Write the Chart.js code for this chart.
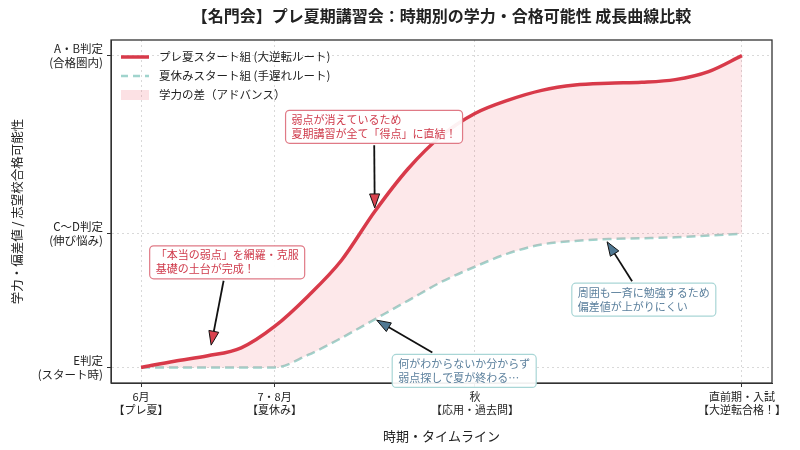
<!DOCTYPE html>
<html>
<head>
<meta charset="utf-8">
<script src="https://cdn.jsdelivr.net/npm/chart.js@4.4.1/dist/chart.umd.min.js"></script>
<style>
  html, body { margin: 0; background: #fff; }
</style>
</head>
<body>
<canvas id="growthChart" width="800" height="450"></canvas>
<script>
const FONT = '"Noto Sans CJK JP", "Noto Sans", sans-serif';

// timeline (0 = 6月, 2 = 7・8月, 5 = 秋, 9 = 直前期)
const timeX = [0, 0.5, 1, 1.5, 2, 2.5, 3, 3.5, 4, 4.5, 5, 5.5, 6, 6.5, 7, 7.5, 8, 8.5, 9];
const preSummerGroup = [40, 40.7, 41.3, 42.2, 44.6, 48, 52, 57.5, 62.3, 66, 68.5, 70, 71.1, 71.7, 71.9, 72, 72.3, 73.2, 75];
const summerGroup = [40, 40, 40, 40, 40, 41.4, 43.3, 45.4, 47.5, 49.6, 51.3, 52.8, 53.8, 54.2, 54.4, 54.5, 54.6, 54.8, 55];

const xTickValues = [0, 2, 5, 9];
const xTickLabels = [["6月", "【プレ夏】"], ["7・8月", "【夏休み】"], ["秋", "【応用・過去問】"], ["直前期・入試", "【大逆転合格！】"]];
const yTickValues = [40, 55, 75];
const yTickLabels = [["E判定", "(スタート時)"], ["C〜D判定", "(伸び悩み)"], ["A・B判定", "(合格圏内)"]];

const seriesNames = ["プレ夏スタート組 (大逆転ルート)", "夏休みスタート組 (手遅れルート)", "学力の差（アドバンス）"];

const notes = [
  { lines: ["弱点が消えているため", "夏期講習が全て「得点」に直結！"], x: 3.49, y: 67, tipX: 3.5, tipY: 57.9, tone: "red" },
  { lines: ["「本当の弱点」を網羅・克服", "基礎の土台が完成！"], x: 1.29, y: 51.8, tipX: 1.05, tipY: 42.5, tone: "red" },
  { lines: ["何がわからないか分からず", "弱点探しで夏が終わる…"], x: 4.84, y: 39.6, tipX: 3.53, tipY: 45.3, tone: "blue" },
  { lines: ["周囲も一斉に勉強するため", "偏差値が上がりにくい"], x: 7.53, y: 47.6, tipX: 6.98, tipY: 54.1, tone: "blue" }
];

const RED = "#d83a4a";
const TEAL = "#a0d4cd";
const PINK = "rgba(238, 90, 105, 0.14)";

const noteTones = {
  red: { text: "#cf3a4b", border: "#e07a86", head: "#d9434f" },
  blue: { text: "#5a7f9c", border: "#a9d6d6", head: "#4f7893" }
};

const titlePlugin = {
  id: "centeredTitle",
  afterDraw(chart) {
    const { ctx, chartArea: a } = chart;
    ctx.save();
    ctx.fillStyle = "#222";
    ctx.font = "bold 16px " + FONT;
    ctx.textAlign = "center";
    ctx.textBaseline = "middle";
    ctx.fillText("【名門会】プレ夏期講習会：時期別の学力・合格可能性 成長曲線比較", (a.left + a.right) / 2, 16);
    ctx.restore();
  }
};

// legend drawn inside the plot, top-left
const legendPlugin = {
  id: "innerLegend",
  afterDatasetsDraw(chart) {
    const { ctx, chartArea: a } = chart;
    const x0 = a.left + 10, y0 = a.top + 17, row = 19;
    ctx.save();
    ctx.font = "11.5px " + FONT;
    ctx.textBaseline = "middle";
    ctx.textAlign = "left";
    chart.data.datasets.forEach((ds, i) => {
      const yy = y0 + row * i;
      ctx.strokeStyle = ds.borderColor;
      ctx.lineWidth = ds.borderWidth;
      ctx.setLineDash(ds.borderDash ? [7, 5] : []);
      ctx.beginPath();
      ctx.moveTo(x0, yy);
      ctx.lineTo(x0 + 28, yy);
      ctx.stroke();
      ctx.fillStyle = "#222";
      ctx.fillText(ds.label, x0 + 38, yy);
    });
    const yy = y0 + row * 2;
    ctx.fillStyle = "rgba(238, 90, 105, 0.18)";
    ctx.fillRect(x0, yy - 5, 28, 10);
    ctx.fillStyle = "#222";
    ctx.fillText(seriesNames[2], x0 + 38, yy);
    ctx.restore();
  }
};

const notesPlugin = {
  id: "notes",
  afterDatasetsDraw(chart) {
    const { ctx, chartArea: a, scales: { x, y } } = chart;
    ctx.save();

    // plot frame first, so the note boxes sit on top of it
    ctx.setLineDash([]);
    ctx.strokeStyle = "#333";
    ctx.lineWidth = 1.3;
    ctx.strokeRect(a.left, a.top, a.right - a.left, a.bottom - a.top);

    ctx.font = "11px " + FONT;
    notes.forEach(n => {
      const tone = noteTones[n.tone];
      const cx = x.getPixelForValue(n.x), cy = y.getPixelForValue(n.y);
      const tx = x.getPixelForValue(n.tipX), ty = y.getPixelForValue(n.tipY);
      const lh = 14;
      const w = Math.max(...n.lines.map(l => ctx.measureText(l).width)) + 12;
      const h = n.lines.length * lh + 5;
      const left = cx - w / 2, top = cy - h / 2;

      // arrow starts just outside the box edge
      const dx = tx - cx, dy = ty - cy;
      const s = Math.min(dx ? Math.abs((w / 2 + 2) / dx) : Infinity, dy ? Math.abs((h / 2 + 2) / dy) : Infinity);
      const sx = cx + dx * s, sy = cy + dy * s;
      const ang = Math.atan2(ty - sy, tx - sx);
      const headLen = 14, headW = 5;
      const bx = tx - Math.cos(ang) * headLen, by = ty - Math.sin(ang) * headLen;
      ctx.strokeStyle = "#111";
      ctx.lineWidth = 1.8;
      ctx.beginPath();
      ctx.moveTo(sx, sy);
      ctx.lineTo(bx, by);
      ctx.stroke();
      ctx.beginPath();
      ctx.moveTo(tx, ty);
      ctx.lineTo(bx + Math.sin(ang) * headW, by - Math.cos(ang) * headW);
      ctx.lineTo(bx - Math.sin(ang) * headW, by + Math.cos(ang) * headW);
      ctx.closePath();
      ctx.fillStyle = tone.head;
      ctx.fill();
      ctx.lineWidth = 1;
      ctx.stroke();

      ctx.beginPath();
      ctx.roundRect(left, top, w, h, 4);
      ctx.fillStyle = "rgba(255,255,255,0.93)";
      ctx.fill();
      ctx.lineWidth = 1.2;
      ctx.strokeStyle = tone.border;
      ctx.stroke();

      ctx.fillStyle = tone.text;
      ctx.textAlign = "left";
      ctx.textBaseline = "middle";
      n.lines.forEach((l, i) => ctx.fillText(l, left + 6, top + 2.5 + lh * (i + 0.5)));
    });
    ctx.restore();
  }
};

new Chart("growthChart", {
  type: "line",
  data: {
    datasets: [
      {
        label: seriesNames[0],
        data: timeX.map((t, i) => ({ x: t, y: preSummerGroup[i] })),
        borderColor: RED,
        backgroundColor: PINK,
        borderWidth: 3.5,
        pointRadius: 0,
        cubicInterpolationMode: "monotone",
        fill: "+1"
      },
      {
        label: seriesNames[1],
        data: timeX.map((t, i) => ({ x: t, y: summerGroup[i] })),
        borderColor: TEAL,
        borderWidth: 2.5,
        borderDash: [9, 5],
        pointRadius: 0,
        cubicInterpolationMode: "monotone",
        fill: false
      }
    ]
  },
  options: {
    responsive: false,
    animation: false,
    layout: { padding: { top: 40, right: 28, left: 0, bottom: 0 } },
    plugins: {
      tooltip: { enabled: false },
      title: { display: false },
      legend: { display: false }
    },
    scales: {
      x: {
        type: "linear",
        min: -0.45,
        max: 9.45,
        afterBuildTicks: s => { s.ticks = xTickValues.map(v => ({ value: v })); },
        afterFit: s => { s.height = 67; },
        ticks: {
          color: "#222",
          padding: 3,
          maxRotation: 0,
          font: { family: FONT, size: 11 },
          callback: v => xTickLabels[xTickValues.indexOf(v)]
        },
        grid: { color: "#d9d9d9", tickColor: "#333", tickLength: 4 },
        border: { display: true, color: "#333", dash: [2, 3] },
        title: { display: true, text: "時期・タイムライン", color: "#222", font: { family: FONT, size: 13 }, padding: { top: 4, bottom: 6 } }
      },
      y: {
        min: 38.25,
        max: 76.75,
        afterBuildTicks: s => { s.ticks = yTickValues.map(v => ({ value: v })); },
        afterFit: s => { s.width = 111; },
        ticks: {
          color: "#222",
          padding: 4,
          font: { family: FONT, size: 11.5 },
          callback: v => yTickLabels[yTickValues.indexOf(v)]
        },
        grid: { color: "#d9d9d9", tickColor: "#333", tickLength: 4 },
        border: { display: true, color: "#333", dash: [2, 3] },
        title: { display: true, text: "学力・偏差値 / 志望校合格可能性", color: "#222", font: { family: FONT, size: 12.5 }, padding: { top: 10, bottom: 0 } }
      }
    }
  },
  plugins: [legendPlugin, notesPlugin, titlePlugin]
});
</script>
</body>
</html>
